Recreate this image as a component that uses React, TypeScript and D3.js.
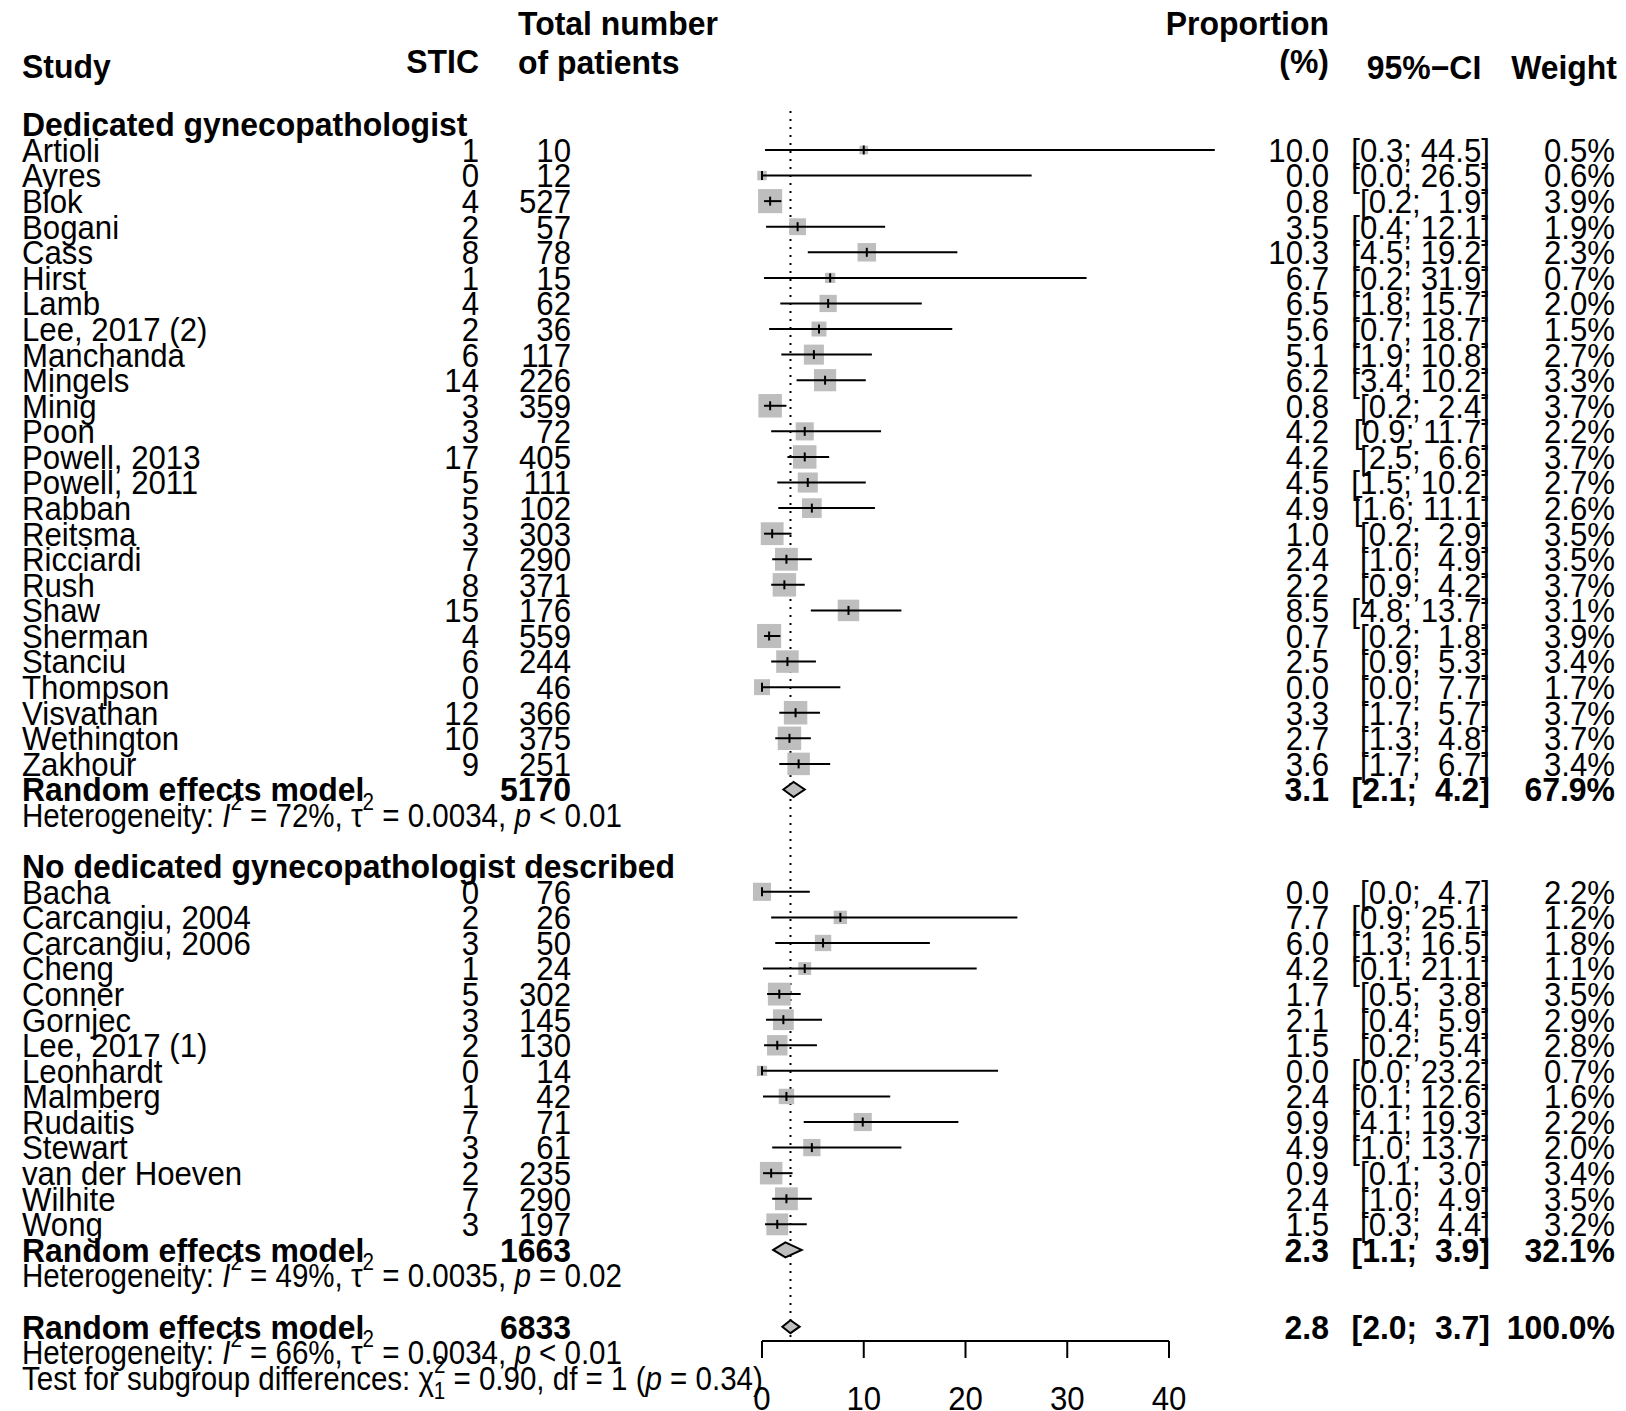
import React from 'react';
import * as d3 from 'd3';

// group 1: dedicated gynecopathologist
const studies1 = ['Artioli', 'Ayres', 'Blok', 'Bogani', 'Cass', 'Hirst', 'Lamb', 'Lee, 2017 (2)', 'Manchanda', 'Mingels', 'Minig', 'Poon', 'Powell, 2013', 'Powell, 2011', 'Rabban', 'Reitsma', 'Ricciardi', 'Rush', 'Shaw', 'Sherman', 'Stanciu', 'Thompson', 'Visvathan', 'Wethington', 'Zakhour'];
const stic1 = [1, 0, 4, 2, 8, 1, 4, 2, 6, 14, 3, 3, 17, 5, 5, 3, 7, 8, 15, 4, 6, 0, 12, 10, 9];
const total1 = [10, 12, 527, 57, 78, 15, 62, 36, 117, 226, 359, 72, 405, 111, 102, 303, 290, 371, 176, 559, 244, 46, 366, 375, 251];
const prop1 = [10.0, 0.0, 0.8, 3.5, 10.3, 6.7, 6.5, 5.6, 5.1, 6.2, 0.8, 4.2, 4.2, 4.5, 4.9, 1.0, 2.4, 2.2, 8.5, 0.7, 2.5, 0.0, 3.3, 2.7, 3.6];
const lower1 = [0.3, 0.0, 0.2, 0.4, 4.5, 0.2, 1.8, 0.7, 1.9, 3.4, 0.2, 0.9, 2.5, 1.5, 1.6, 0.2, 1.0, 0.9, 4.8, 0.2, 0.9, 0.0, 1.7, 1.3, 1.7];
const upper1 = [44.5, 26.5, 1.9, 12.1, 19.2, 31.9, 15.7, 18.7, 10.8, 10.2, 2.4, 11.7, 6.6, 10.2, 11.1, 2.9, 4.9, 4.2, 13.7, 1.8, 5.3, 7.7, 5.7, 4.8, 6.7];
const weight1 = [0.5, 0.6, 3.9, 1.9, 2.3, 0.7, 2.0, 1.5, 2.7, 3.3, 3.7, 2.2, 3.7, 2.7, 2.6, 3.5, 3.5, 3.7, 3.1, 3.9, 3.4, 1.7, 3.7, 3.7, 3.4];

// group 2: no dedicated gynecopathologist described
const studies2 = ['Bacha', 'Carcangiu, 2004', 'Carcangiu, 2006', 'Cheng', 'Conner', 'Gornjec', 'Lee, 2017 (1)', 'Leonhardt', 'Malmberg', 'Rudaitis', 'Stewart', 'van der Hoeven', 'Wilhite', 'Wong'];
const stic2 = [0, 2, 3, 1, 5, 3, 2, 0, 1, 7, 3, 2, 7, 3];
const total2 = [76, 26, 50, 24, 302, 145, 130, 14, 42, 71, 61, 235, 290, 197];
const prop2 = [0.0, 7.7, 6.0, 4.2, 1.7, 2.1, 1.5, 0.0, 2.4, 9.9, 4.9, 0.9, 2.4, 1.5];
const lower2 = [0.0, 0.9, 1.3, 0.1, 0.5, 0.4, 0.2, 0.0, 0.1, 4.1, 1.0, 0.1, 1.0, 0.3];
const upper2 = [4.7, 25.1, 16.5, 21.1, 3.8, 5.9, 5.4, 23.2, 12.6, 19.3, 13.7, 3.0, 4.9, 4.4];
const weight2 = [2.2, 1.2, 1.8, 1.1, 3.5, 2.9, 2.8, 0.7, 1.6, 2.2, 2.0, 3.4, 3.5, 3.2];

// pooled estimates: [total, est, lower, upper, weight]
const pooled1 = [5170, 3.1, 2.1, 4.2, 67.9];
const pooled2 = [1663, 2.3, 1.1, 3.9, 32.1];
const pooledAll = [6833, 2.8, 2.0, 3.7, 100.0];

const het1 = ['72%', '0.0034', '<', '0.01'];
const het2 = ['49%', '0.0035', '=', '0.02'];
const hetAll = ['66%', '0.0034', '<', '0.01'];
const subgroupTest = ['0.90', '1', '0.34'];

const xTicks = [0, 10, 20, 30, 40];

const W = 1626, H = 1411;
const FS = 33;
const SX = 0.945;     // regular text squeeze
const SXB = 0.968;    // bold text squeeze
const SXH = 0.895;    // heterogeneity lines
const rowH = 25.58;
const row0 = 124.4;
const rowY = (i: number) => row0 + i * rowH;
const dy = FS * 0.36;

const colStudy = 22, colStic = 479, colTotal = 571, colProp = 1329, colCI = 1490, colW = 1615;

const x = d3.scaleLinear().domain([0, 40]).range([762, 1169]);

function T(props: any) {
  const { x, y, anchor = 'start', bold = false, children, size = FS, sx } = props;
  const s = sx ?? (bold ? SXB : SX);
  return (
    <text transform={`translate(${x},${y}) scale(${s},1)`} textAnchor={anchor}
      fontWeight={bold ? 'bold' : 'normal'} fontSize={size}
      style={{ whiteSpace: 'pre' }}>
      {children}
    </text>
  );
}

const ci = (lo: number, hi: number) => {
  let u = hi.toFixed(1);
  while (u.length < 4) u = ' ' + u;
  return `[${lo.toFixed(1)}; ${u}]`;
};

function StudyRow({ i, name, s, n, p, lo, hi, w }: any) {
  const y = rowY(i);
  const side = 12.2 * Math.sqrt(w);
  return (
    <g>
      <T x={colStudy} y={y + dy}>{name}</T>
      <T x={colStic} y={y + dy} anchor="end">{s}</T>
      <T x={colTotal} y={y + dy} anchor="end">{n}</T>
      <T x={colProp} y={y + dy} anchor="end">{p.toFixed(1)}</T>
      <T x={colCI} y={y + dy} anchor="end">{ci(lo, hi)}</T>
      <T x={colW} y={y + dy} anchor="end">{w.toFixed(1) + '%'}</T>
      <rect x={x(p) - side / 2} y={y - side / 2} width={side} height={side} fill="#bebebe" />
      <line x1={x(lo)} x2={x(hi)} y1={y} y2={y} stroke="#000" strokeWidth={2} />
      <line x1={x(p)} x2={x(p)} y1={y - 4.5} y2={y + 4.5} stroke="#000" strokeWidth={2} />
    </g>
  );
}

function PooledRow({ i, pooled, h = 15 }: any) {
  const [n, p, lo, hi, w] = pooled;
  const y = rowY(i);
  const pts = [[x(lo), y], [x(p), y - h / 2], [x(hi), y], [x(p), y + h / 2]];
  return (
    <g>
      <T x={colStudy} y={y + dy} bold>Random effects model</T>
      <T x={colTotal} y={y + dy} anchor="end" bold>{n}</T>
      <T x={colProp} y={y + dy} anchor="end" bold>{p.toFixed(1)}</T>
      <T x={colCI} y={y + dy} anchor="end" bold>{ci(lo, hi)}</T>
      <T x={colW} y={y + dy} anchor="end" bold>{w.toFixed(1) + '%'}</T>
      <polygon points={pts.map(d => d.join(',')).join(' ')} fill="#bebebe" stroke="#000" strokeWidth={2} />
    </g>
  );
}

function HetRow({ i, h }: any) {
  const y = rowY(i) + dy;
  return (
    <T x={colStudy} y={y} sx={SXH}>
      Heterogeneity: <tspan fontStyle="italic">I</tspan>
      <tspan fontSize={23} dy={-17}>2</tspan>
      <tspan dy={17}>{` = ${h[0]}, τ`}</tspan>
      <tspan fontSize={23} dy={-17}>2</tspan>
      <tspan dy={17}>{` = ${h[1]}, `}</tspan>
      <tspan fontStyle="italic">p</tspan>
      <tspan>{` ${h[2]} ${h[3]}`}</tspan>
    </T>
  );
}

export default function App() {
  const axisY = 1341;
  return (
    <svg width={W} height={H} style={{ position: 'absolute', left: 0, top: 0, background: '#fff' }}
      fontFamily="'Liberation Sans', Arial, Helvetica, sans-serif">
      <rect width={W} height={H} fill="#fff" />
      {/* headers */}
      <T x={colStudy} y={66 + dy} bold>Study</T>
      <T x={colStic} y={61 + dy} anchor="end" bold>STIC</T>
      <T x={518} y={23 + dy} bold>Total number</T>
      <T x={518} y={62 + dy} bold>of patients</T>
      <T x={colProp} y={23 + dy} anchor="end" bold>Proportion</T>
      <T x={colProp} y={61 + dy} anchor="end" bold>(%)</T>
      <T x={1424} y={67 + dy} anchor="middle" bold>95%−CI</T>
      <T x={1617} y={67 + dy} anchor="end" bold>Weight</T>

      {/* reference line */}
      <line x1={x(pooledAll[1])} x2={x(pooledAll[1])} y1={111} y2={axisY} stroke="#000" strokeWidth={2} strokeDasharray="2,6" />

      <T x={colStudy} y={rowY(0) + dy} bold>Dedicated gynecopathologist</T>
      {studies1.map((name, k) => (
        <StudyRow key={name} i={k + 1} name={name} s={stic1[k]} n={total1[k]} p={prop1[k]} lo={lower1[k]} hi={upper1[k]} w={weight1[k]} />
      ))}
      <PooledRow i={26} pooled={pooled1} />
      <HetRow i={27} h={het1} />

      <T x={colStudy} y={rowY(29) + dy} bold>No dedicated gynecopathologist described</T>
      {studies2.map((name, k) => (
        <StudyRow key={name} i={k + 30} name={name} s={stic2[k]} n={total2[k]} p={prop2[k]} lo={lower2[k]} hi={upper2[k]} w={weight2[k]} />
      ))}
      <PooledRow i={44} pooled={pooled2} />
      <HetRow i={45} h={het2} />

      <PooledRow i={47} pooled={pooledAll} h={13} />
      <HetRow i={48} h={hetAll} />
      <T x={colStudy} y={rowY(49) + dy} sx={SXH}>
        Test for subgroup differences: χ
        <tspan fontSize={23} dy={-17}>2</tspan>
        <tspan fontSize={23} dx={-13} dy={26}>1</tspan>
        <tspan dy={-9}>{` = ${subgroupTest[0]}, df = ${subgroupTest[1]} (`}</tspan>
        <tspan fontStyle="italic">p</tspan>
        <tspan>{` = ${subgroupTest[2]})`}</tspan>
      </T>

      {/* axis */}
      <line x1={x(0)} x2={x(40)} y1={axisY} y2={axisY} stroke="#000" strokeWidth={2} />
      {xTicks.map(t => (
        <g key={t}>
          <line x1={x(t)} x2={x(t)} y1={axisY} y2={axisY + 17} stroke="#000" strokeWidth={2} />
          <T x={x(t)} y={1398 + dy} anchor="middle">{t}</T>
        </g>
      ))}
    </svg>
  );
}
